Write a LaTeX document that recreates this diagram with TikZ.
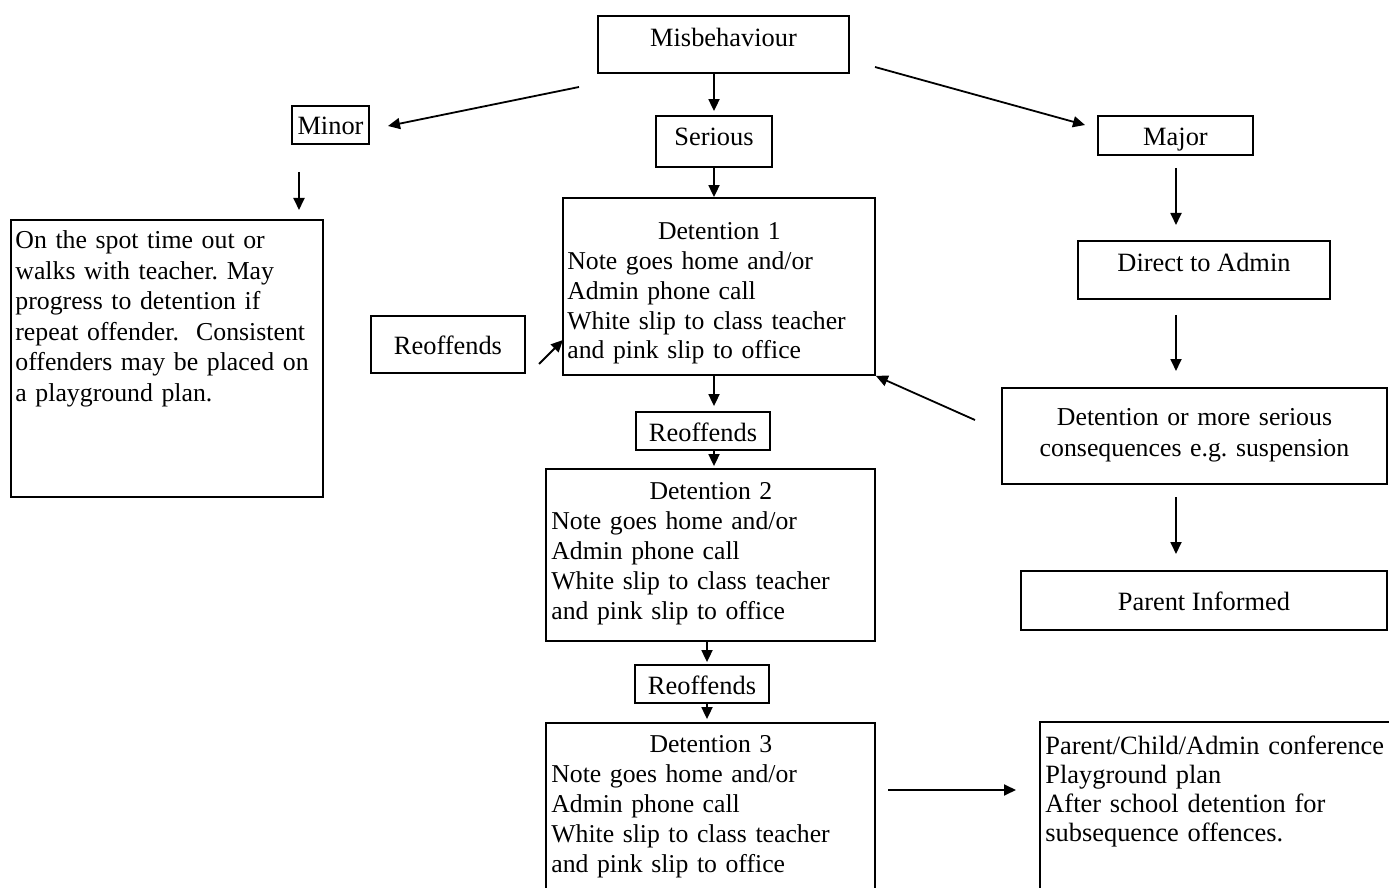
\documentclass[tikz,border=0pt]{standalone}
\usepackage{fontspec}
\setmainfont{Liberation Serif}
\usetikzlibrary{arrows.meta,fit}
\begin{document}
\frenchspacing
\begin{tikzpicture}[x=0.5pt,y=-0.5pt,
  box/.style={draw, line width=0.9pt, inner sep=0pt},
  arr/.style={line width=0.9pt, -{Triangle[length=6pt,width=5.5pt]}},
  txt/.style={inner sep=0pt, font=\fontsize{13.2}{15}\selectfont},
  dtxt/.style={inner sep=0pt, anchor=base west, align=left, font=\fontsize{12.85}{15}\selectfont},
]
\useasboundingbox (0,0) rectangle (1389,888);
\fill[white] (0,0) rectangle (1389,888);
\clip (0,0) rectangle (1389,888);

% boxes
\node[box, fit={(598,16) (849,73)}] (mis) {};
\node[box, fit={(656,116) (772,167)}] (ser) {};
\node[box, fit={(292,106) (369,144)}] (minor) {};
\node[box, fit={(1098,116) (1253,155)}] (major) {};
\node[box, fit={(11,220) (323,497)}] (left) {};
\node[box, fit={(563,198) (875,375)}] (d1) {};
\node[box, fit={(371,316) (525,373)}] (rl) {};
\node[box, fit={(636,412) (770,450)}] (r1) {};
\node[box, fit={(546,469) (875,641)}] (d2) {};
\node[box, fit={(635,665) (769,703)}] (r2) {};
\node[box, fit={(546,723) (875,920)}] (d3) {};
\node[box, fit={(1078,241) (1330,299)}] (admin) {};
\node[box, fit={(1002,388) (1387,484)}] (det) {};
\node[box, fit={(1021,571) (1387,630)}] (par) {};
\node[box, fit={(1040,722) (1420,920)}] (pc) {};

% texts
\node[txt, anchor=base] (misT) at (723.5,47) {Misbehaviour};
\node[txt, anchor=base] (serT) at (714,146) {Serious};
\node[txt, anchor=base] (minorT) at (330.5,135) {Minor};
\node[txt, anchor=base] (majorT) at (1175.5,146) {Major};
\node[txt, anchor=base] (adminT) at (1204,271) {Direct to Admin};
\node[txt, anchor=base, text width=185pt, align=center, font=\fontsize{12.9}{15.5}\selectfont] (detT) at (1194.5,425) {Detention or more serious\\consequences e.g. suspension};
\node[txt, anchor=base] (parT) at (1204,610) {Parent Informed};
\node[txt, anchor=base] (rlT) at (448,355) {Reoffends};
\node[txt, anchor=base] (r1T) at (703,441) {Reoffends};
\node[txt, anchor=base] (r2T) at (702,694) {Reoffends};
\node[dtxt, text width=152pt, font=\fontsize{12.9}{15.25}\selectfont] (leftT) at (15,249) {On the spot time out or\\walks with teacher. May\\progress to detention if\\repeat offender.\ \ Consistent\\offenders may be placed on\\a playground plan.};
\node[dtxt, text width=152pt, font=\fontsize{12.85}{14.85}\selectfont] (d1T) at (567,240) {\makebox[\linewidth]{Detention 1}\\Note goes home and/or\\Admin phone call\\White slip to class teacher\\and pink slip to office};
\node[dtxt, text width=159.5pt] (d2T) at (551,499) {\makebox[\linewidth]{Detention 2}\\Note goes home and/or\\Admin phone call\\White slip to class teacher\\and pink slip to office};
\node[dtxt, text width=159.5pt] (d3T) at (551,752) {\makebox[\linewidth]{Detention 3}\\Note goes home and/or\\Admin phone call\\White slip to class teacher\\and pink slip to office};
\node[dtxt, text width=175pt, font=\fontsize{13.2}{14.65}\selectfont] (pcT) at (1045,754) {Parent/Child/Admin conference\\Playground plan\\After school detention for\\subsequence offences.};

% free connector ends
\coordinate (mA1) at (579,87);   \coordinate (mA2) at (388,126);
\coordinate (mB1) at (875,67);   \coordinate (mB2) at (1085,125);
\coordinate (nA1) at (299,172);  \coordinate (nA2) at (299,210);
\coordinate (jA1) at (1176,168); \coordinate (jA2) at (1176,225);
\coordinate (jB1) at (1176,315); \coordinate (jB2) at (1176,371);
\coordinate (jC1) at (1176,497); \coordinate (jC2) at (1176,554);
\coordinate (kA) at (975,420);
\coordinate (rA1) at (539,364);  \coordinate (rA2) at (563,340);
\coordinate (pA1) at (888,790);  \coordinate (pA2) at (1016,790);
\coordinate (c707) at (707,0);

% connectors
\draw[arr] (mA1) -- (mA2);
\draw[arr] (mB1) -- (mB2);
\draw[arr] (nA1) -- (nA2);
\draw[arr] (jA1) -- (jA2);
\draw[arr] (jB1) -- (jB2);
\draw[arr] (jC1) -- (jC2);
\draw[arr] (kA) -- (d1.south east);
\draw[arr] (rA1) -- (rA2);
\draw[arr] (pA1) -- (pA2);
\draw[arr, shorten >=2pt] (ser.north |- mis.south) -- (ser.north);
\draw[arr] (ser.south) -- (ser.south |- d1.north);
\draw[arr, shorten >=2.5pt] (d1.south -| ser.south) -- (r1.north -| ser.south);
\draw[arr, shorten >=1pt] (r1.south -| ser.south) -- (d2.north -| ser.south);
\draw[arr, shorten >=1pt] (d2.south -| c707) -- (r2.north -| c707);
\draw[arr, shorten >=1.5pt] (r2.south -| c707) -- (d3.north -| c707);
\end{tikzpicture}
\end{document}
